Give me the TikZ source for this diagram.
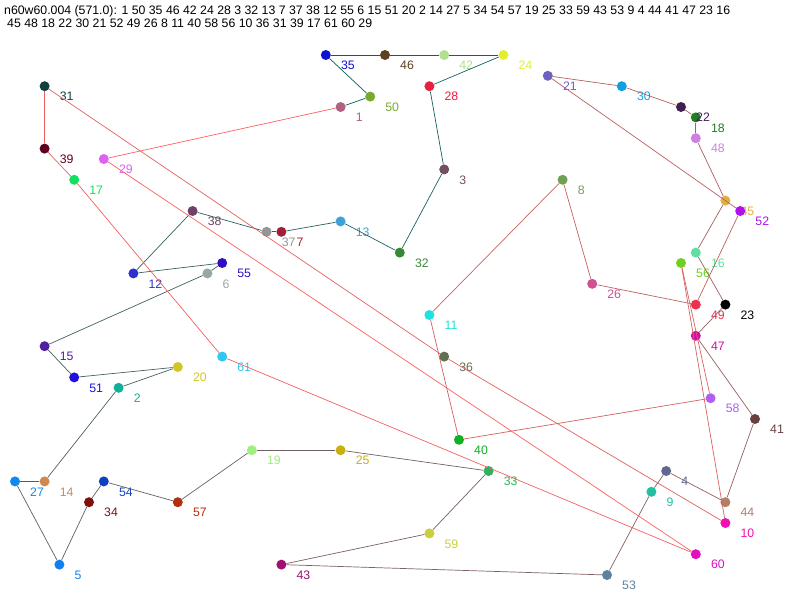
\documentclass[tikz,border=0pt]{standalone}
\usepackage{fontspec}
\setmainfont{Liberation Sans}
\definecolor{tourteal}{RGB}{0,96,96}
\definecolor{tourred}{RGB}{255,96,96}

\begin{document}
\begin{tikzpicture}[
  x=14.8pt, y=-10.4pt,
  city/.style={
    circle, inner sep=0pt, minimum size=10pt
  },
  num/.style={anchor=west, inner sep=0pt, font=\fontsize{12.3}{14}\selectfont},
  leg/.style={line width=0.7pt}
]
  \useasboundingbox (-15pt,55pt) rectangle (785pt,-545pt);
  \node[num, anchor=base west] (head1) at (-11pt,41pt)
    {n60w60.004 (571.0): 1 50 35 46 42 24 28 3 32 13 7 37 38 12 55 6 15 51 20 2 14 27 5 34 54 57 19 25 33 59 43 53 9 4 44 41 47 23 16};
  \node[num, anchor=base west] (head2) at (-8pt,28pt)
    {45 48 18 22 30 21 52 49 26 8 11 40 58 56 10 36 31 39 17 61 60 29};
  % cities: number / grid x / grid y / colour
  \foreach \n/\i/\j/\r/\g/\b in {
    1/22/5/176/96/128, 2/7/32/16/176/152, 3/29/11/112/80/96,
    4/44/40/96/104/144, 5/3/49/16/128/240, 6/13/21/152/168/160,
    7/18/17/160/32/56, 8/37/12/112/160/80, 9/43/42/32/192/160,
    10/48/45/240/16/176, 11/28/25/32/224/224, 12/8/21/48/48/208,
    13/22/16/64/160/216, 14/2/41/208/136/80, 15/2/28/80/32/160,
    16/46/19/96/224/160, 17/4/12/16/224/96, 18/46/6/32/128/32,
    19/16/38/160/240/128, 20/11/30/208/200/32, 21/36/2/112/96/192,
    22/45/5/64/32/80, 23/48/24/0/0/0, 24/33/0/224/240/48,
    25/22/38/200/176/16, 26/39/22/208/80/144, 27/0/41/16/136/240,
    28/28/3/232/32/64, 29/6/10/224/96/240, 30/41/3/16/160/224,
    31/2/3/16/64/64, 32/26/19/56/136/56, 33/32/40/48/176/96,
    34/5/43/128/16/16, 35/21/0/16/16/208, 36/29/29/96/112/80,
    37/17/17/144/152/152, 38/12/15/112/64/104, 39/2/9/96/0/32,
    40/30/37/16/176/32, 41/50/35/104/64/64, 42/29/0/176/224/144,
    43/18/49/160/16/112, 44/48/43/176/128/104, 45/48/14/224/176/64,
    46/25/0/96/64/32, 47/46/27/208/16/160, 48/46/8/208/128/224,
    49/46/24/240/48/80, 50/24/4/120/170/48, 51/4/31/32/16/224,
    52/49/15/176/16/240, 53/40/50/96/128/160, 54/6/41/16/64/192,
    55/14/20/48/16/192, 56/45/20/112/208/32, 57/11/43/176/48/16,
    58/47/33/176/96/240, 59/28/46/200/208/64, 60/46/48/224/16/192,
    61/14/29/48/200/240} {
    \definecolor{cc}{RGB}{\r,\g,\b}
    \node[city, fill=cc] (n\n) at (\i,\j) {};
    \node[num, text=cc] (l\n) at ([shift={(15pt,-10.5pt)}]n\n.center) {\n};
  }
  % the tour, teal to red
  \foreach \c [remember=\c as \p (initially 1), count=\k] in {50,35,46,42,24,28,3,32,13,7,37,38,12,55,6,15,51,20,2,14,27,5,34,54,57,19,25,33,59,43,53,9,4,44,41,47,23,16,45,48,18,22,30,21,52,49,26,8,11,40,58,56,10,36,31,39,17,61,60,29,1} {
    \pgfmathtruncatemacro\mix{100*(\k-1)/60}
    \draw[leg, color=tourred!\mix!tourteal] (n\p) -- (n\c);
  }
\end{tikzpicture}
\end{document}
